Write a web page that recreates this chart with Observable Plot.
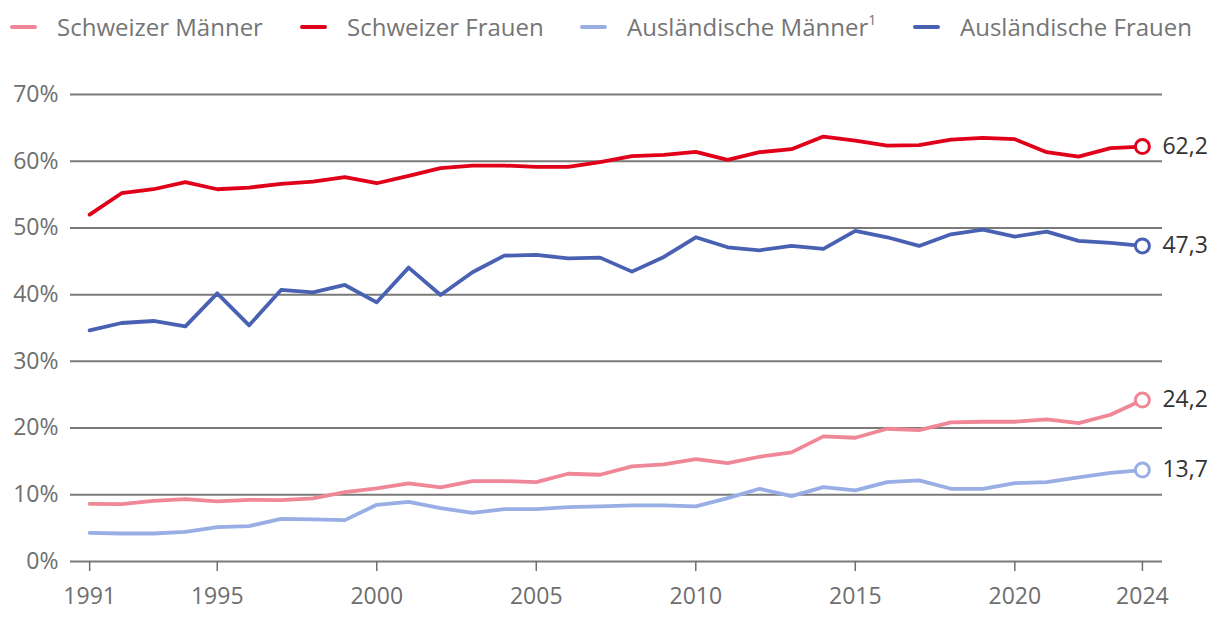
<!DOCTYPE html>
<html>
<head>
<meta charset="utf-8">
<script src="https://cdn.jsdelivr.net/npm/d3@7"></script>
<script src="https://cdn.jsdelivr.net/npm/@observablehq/plot@0.6"></script>
<style>
  html, body { margin: 0; padding: 0; background: #fff; }
  body { width: 1220px; height: 630px; overflow: hidden; font-family: "Open Sans", "Noto Sans", sans-serif; }
  #legend { height: 55px; position: relative; }
  .item { position: absolute; top: 10px; display: flex; align-items: center; font-size: 24px; color: #757575; white-space: nowrap; }
  .sw { width: 27px; height: 4px; border-radius: 2px; margin-right: 20px; }
  sup { font-size: 14px; position: relative; top: -2px; }
</style>
</head>
<body>
<div id="legend"></div>
<div id="chart"></div>
<script>
const years = d3.range(1991, 2025);
const seriesNames = ["Schweizer Männer", "Schweizer Frauen", "Ausländische Männer", "Ausländische Frauen"];
const seriesColors = ["#ef8796", "#e1001a", "#98aee5", "#4961b3"];
const legendLabels = ["Schweizer Männer", "Schweizer Frauen", "Ausländische Männer<sup>1</sup>", "Ausländische Frauen"];
const legendX = [10, 300, 580, 913];

const schweizerMaenner = [8.65, 8.6, 9.1, 9.35, 9.0, 9.25, 9.2, 9.45, 10.4, 10.95, 11.7, 11.1, 12.05, 12.05, 11.9, 13.15, 13.0, 14.25, 14.55, 15.35, 14.75, 15.7, 16.35, 18.75, 18.55, 19.9, 19.7, 20.85, 20.95, 20.95, 21.3, 20.75, 22.0, 24.2];
const schweizerFrauen = [52.0, 55.2, 55.8, 56.85, 55.8, 56.05, 56.6, 56.95, 57.6, 56.7, 57.8, 58.95, 59.35, 59.35, 59.15, 59.15, 59.85, 60.75, 60.95, 61.4, 60.2, 61.35, 61.8, 63.7, 63.1, 62.35, 62.4, 63.25, 63.5, 63.3, 61.35, 60.7, 61.95, 62.2];
const auslaendischeMaenner = [4.3, 4.2, 4.2, 4.45, 5.15, 5.3, 6.4, 6.3, 6.2, 8.5, 8.95, 8.0, 7.3, 7.85, 7.85, 8.15, 8.25, 8.4, 8.4, 8.25, 9.5, 10.9, 9.8, 11.15, 10.65, 11.9, 12.15, 10.9, 10.9, 11.75, 11.9, 12.6, 13.3, 13.7];
const auslaendischeFrauen = [34.65, 35.75, 36.05, 35.25, 40.2, 35.4, 40.7, 40.35, 41.45, 38.85, 44.05, 39.95, 43.35, 45.85, 45.95, 45.45, 45.55, 43.45, 45.65, 48.6, 47.1, 46.65, 47.3, 46.85, 49.55, 48.6, 47.3, 49.05, 49.75, 48.7, 49.45, 48.05, 47.75, 47.3];
const endLabels = ["24,2", "62,2", "13,7", "47,3"];

const xTicks = [1991, 1995, 2000, 2005, 2010, 2015, 2020, 2024];
const yTicks = [0, 10, 20, 30, 40, 50, 60, 70];

// legend
const legend = document.getElementById("legend");
seriesNames.forEach((n, i) => {
  const it = document.createElement("div");
  it.className = "item";
  it.style.left = legendX[i] + "px";
  it.innerHTML = `<span class="sw" style="background:${seriesColors[i]}"></span><span>${legendLabels[i]}</span>`;
  legend.appendChild(it);
});

const allSeries = [schweizerMaenner, schweizerFrauen, auslaendischeMaenner, auslaendischeFrauen];
const data = [];
allSeries.forEach((vals, i) => vals.forEach((v, j) => data.push({year: years[j], value: v, series: seriesNames[i]})));
const last = allSeries.map((vals, i) => ({year: years[years.length - 1], value: vals[vals.length - 1], series: seriesNames[i], label: endLabels[i]}));

const chart = Plot.plot({
  width: 1220,
  height: 575,
  marginLeft: 70,
  marginRight: 58,
  marginTop: 39,
  marginBottom: 69,
  style: {fontFamily: "'Open Sans', 'Noto Sans', sans-serif", background: "#fff", overflow: "visible"},
  x: {domain: [1990.4, 2024.63], ticks: xTicks, tickFormat: d => String(d), label: null},
  y: {domain: [0, 70], ticks: yTicks, label: null},
  color: {domain: seriesNames, range: seriesColors},
  marks: [
    Plot.ruleY(yTicks, {stroke: "#7a7a7a", strokeWidth: 2}),
    Plot.axisY({ticks: yTicks, tickSize: 0, tickPadding: 12, tickFormat: d => d + "%", fontSize: 23, color: "#6e6e6e", label: null}),
    Plot.axisX({ticks: xTicks, tickSize: 10, tickPadding: 16, tickFormat: d => String(d), fontSize: 23, color: "#6e6e6e", strokeWidth: 1.5, label: null}),
    Plot.line(data, {x: "year", y: "value", stroke: "series", z: "series", strokeWidth: 3.8, strokeLinejoin: "round"}),
    Plot.dot(last, {x: "year", y: "value", stroke: "series", fill: "#fff", r: 7, strokeWidth: 3}),
    Plot.text(last, {x: "year", y: "value", text: "label", dx: 20, textAnchor: "start", fontSize: 23, fill: "#333"})
  ]
});
document.getElementById("chart").appendChild(chart);
</script>
</body>
</html>
